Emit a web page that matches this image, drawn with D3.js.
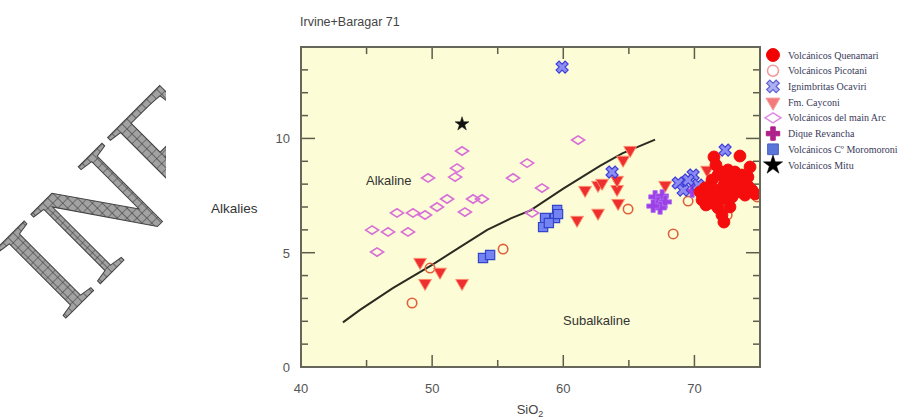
<!DOCTYPE html>
<html><head><meta charset="utf-8">
<script src="https://cdn.jsdelivr.net/npm/d3@7"></script>
<style>
html,body{margin:0;padding:0;background:#fff;}
svg{display:block;}
</style></head>
<body>
<svg id="chart" width="911" height="418"></svg>
<script>
// ---------- data (SiO2, Na2O+K2O) ----------
const quenamari = [[71.49,9.19],[73.47,9.23],[74.24,8.75],[70.81,7.83],[71.34,8.18],[71.8,8.4],[72.1,8.53],[72.56,8.36],[72.94,8.27],[73.32,8.18],[73.7,8.05],[74.08,7.92],[74.39,7.74],[74.62,7.57],[71.19,7.52],[71.64,7.74],[72.25,7.96],[72.71,7.83],[73.09,7.74],[73.47,7.66],[73.86,7.52],[71.95,7.31],[72.48,7.39],[72.87,7.44],[70.58,7.31],[70.88,7.09],[71.34,7.17],[71.8,6.96],[72.1,6.65],[72.25,6.34],[72.71,7.0],[70.43,7.66],[71.19,7.92],[72.56,8.62],[73.09,8.53],[73.63,8.4],[71.64,8.84],[74.08,8.31],[72.41,7.66],[73.25,7.96]];
const picotani = [[48.47,2.8],[49.84,4.33],[55.41,5.16],[64.94,6.91],[68.38,5.82],[69.52,7.26],[72.5,6.65],[74.78,7.44]];
const ignimbritas = [[59.91,13.12],[63.72,8.53],[72.34,9.49],[68.76,8.05],[69.9,8.4],[69.14,7.74],[70.28,7.96],[69.52,8.18]];
const cayconi = [[49.08,4.59],[50.6,4.16],[49.46,3.67],[52.28,3.67],[61.05,6.43],[62.65,6.74],[61.66,7.74],[62.65,7.96],[64.1,7.78],[62.96,8.05],[64.1,8.18],[64.18,7.17],[64.56,9.06],[65.1,9.49],[67.77,7.96],[70.97,8.62]];
const mainArc = [[52.28,9.45],[51.9,8.7],[51.75,8.31],[49.69,8.27],[57.24,8.92],[56.17,8.27],[61.13,9.93],[58.38,7.83],[57.62,6.74],[53.12,7.35],[53.8,7.35],[52.5,6.78],[51.14,7.35],[50.37,7.0],[49.46,6.65],[48.54,6.74],[47.32,6.74],[48.16,5.91],[46.64,5.91],[45.42,5.99],[45.8,5.03]];
const dique = [[67.0,7.44],[67.54,7.48],[67.23,7.17],[67.77,7.22],[67.38,6.96],[66.85,7.04],[69.82,7.7],[70.43,7.83]];
const moromoroni = [[58.61,6.52],[59.53,6.87],[59.37,6.52],[58.46,6.12],[59.6,6.69],[58.9,6.3],[53.88,4.77],[54.42,4.9]];
const mitu = [[52.28,10.63]];
const divideLine = [[43.2,1.95],[44.5,2.5],[47,3.45],[50,4.47],[52,5.2],[54.2,6.0],[56,6.5],[57.5,6.85],[60,7.8],[62.8,8.8],[64.5,9.35],[67,9.95]];

const xTickLabels = [40,50,60,70];
const yTickLabels = [0,5,10];
const legendLabels = ["Volcánicos Quenamari","Volcánicos Picotani","Ignimbritas Ocaviri","Fm. Cayconi","Volcánicos del main Arc","Dique Revancha","Volcánicos Cº Moromoroni","Volcánicos Mitu"];

// ---------- layout ----------
const svg = d3.select("#chart");
const X0=301, X1=760, Y0=367, Y1=47;
const x = d3.scaleLinear().domain([40,75]).range([X0,X1]);
const y = d3.scaleLinear().domain([0,14]).range([Y0,Y1]);

// watermark
const defs = svg.append("defs");
const pat = defs.append("pattern").attr("id","hatch").attr("patternUnits","userSpaceOnUse")
  .attr("width",7).attr("height",7);
pat.append("rect").attr("width",7).attr("height",7).attr("fill","#a2a2a2");
pat.append("path").attr("d","M0,0H7M0,0V7").attr("stroke","#3a3a3a").attr("stroke-width",1.2);
defs.append("clipPath").attr("id","wmclip").append("rect").attr("x",0).attr("y",0).attr("width",166).attr("height",418);
svg.append("g").attr("clip-path","url(#wmclip)")
  .append("text").attr("transform","translate(62,322) rotate(-45)")
  .attr("font-family","Liberation Serif").attr("font-size",150)
  .attr("fill","url(#hatch)").attr("stroke","#444").attr("stroke-width",1)
  .text("INF");

// title
svg.append("text").attr("x",300).attr("y",26).attr("font-family","Liberation Sans, Arial")
  .attr("font-size",12.5).attr("fill","#444").text("Irvine+Baragar 71");

// plot background
svg.append("rect").attr("x",X0).attr("y",Y1).attr("width",X1-X0).attr("height",Y0-Y1)
  .attr("fill","#fcfcd6");

defs.append("clipPath").attr("id","pclip").append("rect")
  .attr("x",X0).attr("y",Y1).attr("width",X1-X0).attr("height",Y0-Y1);

// ticks
const tickCol="#5d5d4d";
d3.range(1,14).forEach(v=>{
  const L = v%5===0?14:7;
  svg.append("line").attr("x1",X0).attr("x2",X0+L).attr("y1",y(v)).attr("y2",y(v)).attr("stroke",tickCol).attr("stroke-width",1.5);
  svg.append("line").attr("x1",X1).attr("x2",X1-L).attr("y1",y(v)).attr("y2",y(v)).attr("stroke",tickCol).attr("stroke-width",1.5);
});
[45,50,55,60,65,70].forEach(v=>{
  const L = v%10===0?12:7;
  svg.append("line").attr("x1",x(v)).attr("x2",x(v)).attr("y1",Y0).attr("y2",Y0-L).attr("stroke",tickCol).attr("stroke-width",1.5);
  svg.append("line").attr("x1",x(v)).attr("x2",x(v)).attr("y1",Y1).attr("y2",Y1+L).attr("stroke",tickCol).attr("stroke-width",1.5);
});

// tick labels
const lab = {"font-family":"Liberation Sans, Arial","font-size":13,"fill":"#555"};
xTickLabels.forEach(v=>{
  const t=svg.append("text").attr("x",x(v)).attr("y",393).attr("text-anchor","middle").text(v);
  Object.entries(lab).forEach(([k,val])=>t.attr(k,val));
});
yTickLabels.forEach(v=>{
  const t=svg.append("text").attr("x",290).attr("y",y(v)+5).attr("text-anchor","end").text(v);
  Object.entries(lab).forEach(([k,val])=>t.attr(k,val));
});

// axis titles
const sio = svg.append("text").attr("x",530).attr("y",414).attr("text-anchor","middle")
  .attr("font-family","Liberation Sans, Arial").attr("font-size",13).attr("fill","#444");
sio.append("tspan").text("SiO");
sio.append("tspan").attr("font-size",9).attr("dy",3).text("2");
svg.append("text").attr("x",211).attr("y",213).attr("font-family","Liberation Sans, Arial")
  .attr("font-size",13.5).attr("fill","#333").text("Alkalies");
svg.append("text").attr("x",366).attr("y",185).attr("font-family","Liberation Sans, Arial")
  .attr("font-size",13).attr("fill","#333").text("Alkaline");
svg.append("text").attr("x",563).attr("y",325).attr("font-family","Liberation Sans, Arial")
  .attr("font-size",13).attr("fill","#333").text("Subalkaline");

// divide line
const g = svg.append("g").attr("clip-path","url(#pclip)");
g.append("path").datum(divideLine)
  .attr("d", d3.line().x(d=>x(d[0])).y(d=>y(d[1])))
  .attr("fill","none").attr("stroke","#2b2b22").attr("stroke-width",2);

// symbol definitions
const diamondPath = "M-6.5,0L0,-4.2L6.5,0L0,4.2Z";
const styles = [
  {data:quenamari, d:d3.symbol(d3.symbolCircle,110)(), fill:"#f50d0d", stroke:"#f50d0d", sw:1, rot:0},
  {data:picotani, d:d3.symbol(d3.symbolCircle,70)(), fill:"none", stroke:"#e0603a", sw:1.6, rot:0},
  {data:ignimbritas, d:d3.symbol(d3.symbolCross,90)(), fill:"#8c8cf2", stroke:"#3f3fd8", sw:1.2, rot:45},
  {data:cayconi, d:d3.symbol(d3.symbolTriangle,70)(), fill:"#ee2f2f", stroke:"#ff8a6a", sw:1, rot:180},
  {data:mainArc, d:diamondPath, fill:"none", stroke:"#d86fd8", sw:1.6, rot:0},
  {data:dique, d:d3.symbol(d3.symbolCross,90)(), fill:"#9b3fe6", stroke:"#b070f0", sw:0.8, rot:0},
  {data:moromoroni, d:d3.symbol(d3.symbolSquare,85)(), fill:"#7383f2", stroke:"#3344cc", sw:1.2, rot:0},
  {data:mitu, d:d3.symbol(d3.symbolStar,60)(), fill:"#111", stroke:"#111", sw:0.5, rot:0}
];
[4,1,3,6,5,2,0,7].forEach(i=>{
  const s=styles[i];
  g.append("g").selectAll("path").data(s.data).join("path")
    .attr("d",s.d)
    .attr("transform",d=>`translate(${x(d[0])},${y(d[1])}) rotate(${s.rot})`)
    .attr("fill",s.fill).attr("stroke",s.stroke).attr("stroke-width",s.sw);
});

// frame
svg.append("rect").attr("x",X0).attr("y",Y1).attr("width",X1-X0).attr("height",Y0-Y1)
  .attr("fill","none").attr("stroke","#66665a").attr("stroke-width",2);

// legend
const legStyles = [
  {d:d3.symbol(d3.symbolCircle,130)(), fill:"#f20000", stroke:"#f20000", sw:1, rot:0},
  {d:d3.symbol(d3.symbolCircle,95)(), fill:"#fff", stroke:"#f09a9a", sw:1.5, rot:0},
  {d:d3.symbol(d3.symbolCross,100)(), fill:"#aab0f0", stroke:"#6060d0", sw:1.2, rot:45},
  {d:d3.symbol(d3.symbolTriangle,85)(), fill:"#f27a7a", stroke:"#f6a0a0", sw:1, rot:180},
  {d:"M-8,0L0,-5L8,0L0,5Z", fill:"#fff", stroke:"#e08ae0", sw:1.5, rot:0},
  {d:d3.symbol(d3.symbolCross,100)(), fill:"#b0208a", stroke:"#b0208a", sw:1, rot:0},
  {d:d3.symbol(d3.symbolSquare,115)(), fill:"#5a74d8", stroke:"#4a60c0", sw:1, rot:0},
  {d:d3.symbol(d3.symbolStar,115)(), fill:"#000", stroke:"#000", sw:0.5, rot:0}
];
const ly = d3.scaleLinear().domain([0,7]).range([55,165]);
const leg = svg.append("g");
legendLabels.forEach((t,i)=>{
  const s=legStyles[i];
  leg.append("path").attr("d",s.d).attr("transform",`translate(773,${ly(i)}) rotate(${s.rot})`)
    .attr("fill",s.fill).attr("stroke",s.stroke).attr("stroke-width",s.sw);
  leg.append("text").attr("x",788).attr("y",ly(i)+3.5).attr("font-family","Liberation Serif, Times New Roman")
    .attr("font-size",10).attr("fill","#3a3a5a").text(t);
});
</script>
</body></html>
